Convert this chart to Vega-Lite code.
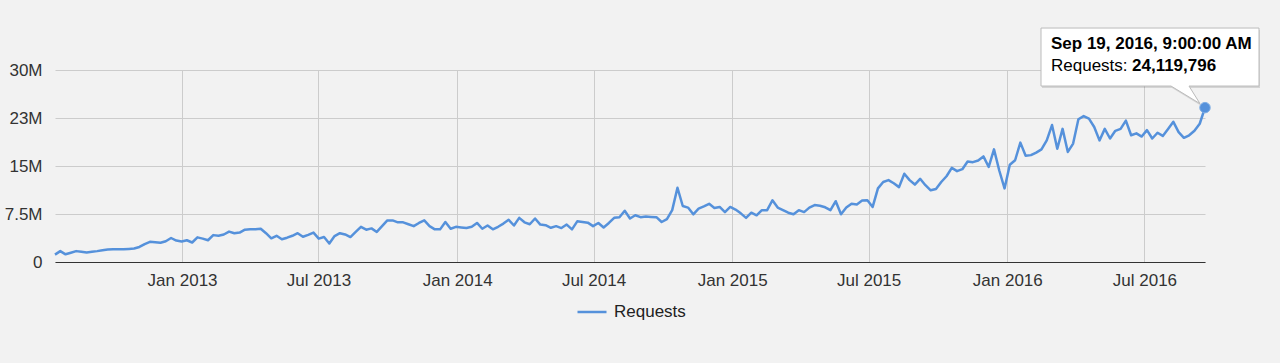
{
  "$schema": "https://vega.github.io/schema/vega-lite/v6.json",
  "width": 1150,
  "height": 192,
  "autosize": {"type": "none"},
  "padding": {"left": 55, "top": 70, "right": 75, "bottom": 101},
  "background": "#f2f2f2",
  "config": {"view": {"stroke": null}, "font": "Liberation Sans"},
  "data": {"values": [
    {"date":"2012-07-16T09:00:00","requests":1150000},
    {"date":"2012-07-23T09:00:00","requests":1700000},
    {"date":"2012-07-30T09:00:00","requests":1200000},
    {"date":"2012-08-06T09:00:00","requests":1450000},
    {"date":"2012-08-13T09:00:00","requests":1700000},
    {"date":"2012-08-20T09:00:00","requests":1600000},
    {"date":"2012-08-27T09:00:00","requests":1500000},
    {"date":"2012-09-03T09:00:00","requests":1600000},
    {"date":"2012-09-10T09:00:00","requests":1700000},
    {"date":"2012-09-17T09:00:00","requests":1850000},
    {"date":"2012-09-24T09:00:00","requests":1950000},
    {"date":"2012-10-01T09:00:00","requests":2000000},
    {"date":"2012-10-08T09:00:00","requests":2000000},
    {"date":"2012-10-15T09:00:00","requests":2000000},
    {"date":"2012-10-22T09:00:00","requests":2050000},
    {"date":"2012-10-29T09:00:00","requests":2100000},
    {"date":"2012-11-05T09:00:00","requests":2350000},
    {"date":"2012-11-12T09:00:00","requests":2800000},
    {"date":"2012-11-19T09:00:00","requests":3150000},
    {"date":"2012-11-26T09:00:00","requests":3100000},
    {"date":"2012-12-03T09:00:00","requests":3000000},
    {"date":"2012-12-10T09:00:00","requests":3250000},
    {"date":"2012-12-17T09:00:00","requests":3750000},
    {"date":"2012-12-24T09:00:00","requests":3350000},
    {"date":"2012-12-31T09:00:00","requests":3200000},
    {"date":"2013-01-07T09:00:00","requests":3400000},
    {"date":"2013-01-14T09:00:00","requests":3050000},
    {"date":"2013-01-21T09:00:00","requests":3850000},
    {"date":"2013-01-28T09:00:00","requests":3650000},
    {"date":"2013-02-04T09:00:00","requests":3400000},
    {"date":"2013-02-11T09:00:00","requests":4200000},
    {"date":"2013-02-18T09:00:00","requests":4100000},
    {"date":"2013-02-25T09:00:00","requests":4300000},
    {"date":"2013-03-04T09:00:00","requests":4750000},
    {"date":"2013-03-11T09:00:00","requests":4500000},
    {"date":"2013-03-18T09:00:00","requests":4600000},
    {"date":"2013-03-25T09:00:00","requests":5050000},
    {"date":"2013-04-01T09:00:00","requests":5100000},
    {"date":"2013-04-08T09:00:00","requests":5100000},
    {"date":"2013-04-15T09:00:00","requests":5200000},
    {"date":"2013-04-22T09:00:00","requests":4500000},
    {"date":"2013-04-29T09:00:00","requests":3700000},
    {"date":"2013-05-06T09:00:00","requests":4100000},
    {"date":"2013-05-13T09:00:00","requests":3550000},
    {"date":"2013-05-20T09:00:00","requests":3800000},
    {"date":"2013-05-27T09:00:00","requests":4100000},
    {"date":"2013-06-03T09:00:00","requests":4500000},
    {"date":"2013-06-10T09:00:00","requests":3950000},
    {"date":"2013-06-17T09:00:00","requests":4250000},
    {"date":"2013-06-24T09:00:00","requests":4600000},
    {"date":"2013-07-01T09:00:00","requests":3650000},
    {"date":"2013-07-08T09:00:00","requests":3900000},
    {"date":"2013-07-15T09:00:00","requests":2900000},
    {"date":"2013-07-22T09:00:00","requests":4050000},
    {"date":"2013-07-29T09:00:00","requests":4500000},
    {"date":"2013-08-05T09:00:00","requests":4300000},
    {"date":"2013-08-12T09:00:00","requests":3900000},
    {"date":"2013-08-19T09:00:00","requests":4700000},
    {"date":"2013-08-26T09:00:00","requests":5500000},
    {"date":"2013-09-02T09:00:00","requests":5050000},
    {"date":"2013-09-09T09:00:00","requests":5250000},
    {"date":"2013-09-16T09:00:00","requests":4700000},
    {"date":"2013-09-23T09:00:00","requests":5600000},
    {"date":"2013-09-30T09:00:00","requests":6500000},
    {"date":"2013-10-07T09:00:00","requests":6500000},
    {"date":"2013-10-14T09:00:00","requests":6200000},
    {"date":"2013-10-21T09:00:00","requests":6200000},
    {"date":"2013-10-28T09:00:00","requests":5900000},
    {"date":"2013-11-04T09:00:00","requests":5600000},
    {"date":"2013-11-11T09:00:00","requests":6100000},
    {"date":"2013-11-18T09:00:00","requests":6500000},
    {"date":"2013-11-25T09:00:00","requests":5600000},
    {"date":"2013-12-02T09:00:00","requests":5100000},
    {"date":"2013-12-09T09:00:00","requests":5100000},
    {"date":"2013-12-16T09:00:00","requests":6250000},
    {"date":"2013-12-23T09:00:00","requests":5200000},
    {"date":"2013-12-30T09:00:00","requests":5500000},
    {"date":"2014-01-06T09:00:00","requests":5400000},
    {"date":"2014-01-13T09:00:00","requests":5300000},
    {"date":"2014-01-20T09:00:00","requests":5500000},
    {"date":"2014-01-27T09:00:00","requests":6100000},
    {"date":"2014-02-03T09:00:00","requests":5200000},
    {"date":"2014-02-10T09:00:00","requests":5700000},
    {"date":"2014-02-17T09:00:00","requests":5100000},
    {"date":"2014-02-24T09:00:00","requests":5500000},
    {"date":"2014-03-03T09:00:00","requests":6000000},
    {"date":"2014-03-10T09:00:00","requests":6600000},
    {"date":"2014-03-17T09:00:00","requests":5700000},
    {"date":"2014-03-24T09:00:00","requests":6900000},
    {"date":"2014-03-31T09:00:00","requests":6200000},
    {"date":"2014-04-07T09:00:00","requests":5900000},
    {"date":"2014-04-14T09:00:00","requests":6800000},
    {"date":"2014-04-21T09:00:00","requests":5850000},
    {"date":"2014-04-28T09:00:00","requests":5750000},
    {"date":"2014-05-05T09:00:00","requests":5350000},
    {"date":"2014-05-12T09:00:00","requests":5600000},
    {"date":"2014-05-19T09:00:00","requests":5300000},
    {"date":"2014-05-26T09:00:00","requests":5850000},
    {"date":"2014-06-02T09:00:00","requests":5100000},
    {"date":"2014-06-09T09:00:00","requests":6350000},
    {"date":"2014-06-16T09:00:00","requests":6250000},
    {"date":"2014-06-23T09:00:00","requests":6150000},
    {"date":"2014-06-30T09:00:00","requests":5600000},
    {"date":"2014-07-07T09:00:00","requests":6100000},
    {"date":"2014-07-14T09:00:00","requests":5400000},
    {"date":"2014-07-21T09:00:00","requests":6100000},
    {"date":"2014-07-28T09:00:00","requests":6900000},
    {"date":"2014-08-04T09:00:00","requests":7000000},
    {"date":"2014-08-11T09:00:00","requests":8000000},
    {"date":"2014-08-18T09:00:00","requests":6800000},
    {"date":"2014-08-25T09:00:00","requests":7300000},
    {"date":"2014-09-01T09:00:00","requests":7000000},
    {"date":"2014-09-08T09:00:00","requests":7100000},
    {"date":"2014-09-15T09:00:00","requests":7050000},
    {"date":"2014-09-22T09:00:00","requests":7000000},
    {"date":"2014-09-29T09:00:00","requests":6250000},
    {"date":"2014-10-06T09:00:00","requests":6700000},
    {"date":"2014-10-13T09:00:00","requests":8100000},
    {"date":"2014-10-20T09:00:00","requests":11600000},
    {"date":"2014-10-27T09:00:00","requests":8750000},
    {"date":"2014-11-03T09:00:00","requests":8500000},
    {"date":"2014-11-10T09:00:00","requests":7450000},
    {"date":"2014-11-17T09:00:00","requests":8350000},
    {"date":"2014-11-24T09:00:00","requests":8700000},
    {"date":"2014-12-01T09:00:00","requests":9100000},
    {"date":"2014-12-08T09:00:00","requests":8450000},
    {"date":"2014-12-15T09:00:00","requests":8600000},
    {"date":"2014-12-22T09:00:00","requests":7800000},
    {"date":"2014-12-29T09:00:00","requests":8600000},
    {"date":"2015-01-05T09:00:00","requests":8200000},
    {"date":"2015-01-12T09:00:00","requests":7600000},
    {"date":"2015-01-19T09:00:00","requests":6900000},
    {"date":"2015-01-26T09:00:00","requests":7700000},
    {"date":"2015-02-02T09:00:00","requests":7300000},
    {"date":"2015-02-09T09:00:00","requests":8100000},
    {"date":"2015-02-16T09:00:00","requests":8100000},
    {"date":"2015-02-23T09:00:00","requests":9650000},
    {"date":"2015-03-02T09:00:00","requests":8500000},
    {"date":"2015-03-09T09:00:00","requests":8100000},
    {"date":"2015-03-16T09:00:00","requests":7700000},
    {"date":"2015-03-23T09:00:00","requests":7450000},
    {"date":"2015-03-30T09:00:00","requests":8100000},
    {"date":"2015-04-06T09:00:00","requests":7800000},
    {"date":"2015-04-13T09:00:00","requests":8500000},
    {"date":"2015-04-20T09:00:00","requests":8900000},
    {"date":"2015-04-27T09:00:00","requests":8800000},
    {"date":"2015-05-04T09:00:00","requests":8550000},
    {"date":"2015-05-11T09:00:00","requests":8100000},
    {"date":"2015-05-18T09:00:00","requests":9500000},
    {"date":"2015-05-25T09:00:00","requests":7450000},
    {"date":"2015-06-01T09:00:00","requests":8500000},
    {"date":"2015-06-08T09:00:00","requests":9100000},
    {"date":"2015-06-15T09:00:00","requests":9000000},
    {"date":"2015-06-22T09:00:00","requests":9600000},
    {"date":"2015-06-29T09:00:00","requests":9650000},
    {"date":"2015-07-06T09:00:00","requests":8600000},
    {"date":"2015-07-13T09:00:00","requests":11500000},
    {"date":"2015-07-20T09:00:00","requests":12500000},
    {"date":"2015-07-27T09:00:00","requests":12800000},
    {"date":"2015-08-03T09:00:00","requests":12300000},
    {"date":"2015-08-10T09:00:00","requests":11700000},
    {"date":"2015-08-17T09:00:00","requests":13800000},
    {"date":"2015-08-24T09:00:00","requests":12800000},
    {"date":"2015-08-31T09:00:00","requests":12100000},
    {"date":"2015-09-07T09:00:00","requests":13000000},
    {"date":"2015-09-14T09:00:00","requests":12000000},
    {"date":"2015-09-21T09:00:00","requests":11200000},
    {"date":"2015-09-28T09:00:00","requests":11400000},
    {"date":"2015-10-05T09:00:00","requests":12500000},
    {"date":"2015-10-12T09:00:00","requests":13400000},
    {"date":"2015-10-19T09:00:00","requests":14700000},
    {"date":"2015-10-26T09:00:00","requests":14200000},
    {"date":"2015-11-02T09:00:00","requests":14500000},
    {"date":"2015-11-09T09:00:00","requests":15700000},
    {"date":"2015-11-16T09:00:00","requests":15600000},
    {"date":"2015-11-23T09:00:00","requests":15850000},
    {"date":"2015-11-30T09:00:00","requests":16500000},
    {"date":"2015-12-07T09:00:00","requests":14850000},
    {"date":"2015-12-14T09:00:00","requests":17600000},
    {"date":"2015-12-21T09:00:00","requests":14300000},
    {"date":"2015-12-28T09:00:00","requests":11500000},
    {"date":"2016-01-04T09:00:00","requests":15200000},
    {"date":"2016-01-11T09:00:00","requests":15900000},
    {"date":"2016-01-18T09:00:00","requests":18650000},
    {"date":"2016-01-25T09:00:00","requests":16600000},
    {"date":"2016-02-01T09:00:00","requests":16700000},
    {"date":"2016-02-08T09:00:00","requests":17100000},
    {"date":"2016-02-15T09:00:00","requests":17600000},
    {"date":"2016-02-22T09:00:00","requests":19000000},
    {"date":"2016-02-29T09:00:00","requests":21400000},
    {"date":"2016-03-07T09:00:00","requests":17700000},
    {"date":"2016-03-14T09:00:00","requests":20800000},
    {"date":"2016-03-21T09:00:00","requests":17200000},
    {"date":"2016-03-28T09:00:00","requests":18500000},
    {"date":"2016-04-04T09:00:00","requests":22300000},
    {"date":"2016-04-11T09:00:00","requests":22800000},
    {"date":"2016-04-18T09:00:00","requests":22400000},
    {"date":"2016-04-25T09:00:00","requests":21100000},
    {"date":"2016-05-02T09:00:00","requests":19000000},
    {"date":"2016-05-09T09:00:00","requests":20800000},
    {"date":"2016-05-16T09:00:00","requests":19300000},
    {"date":"2016-05-23T09:00:00","requests":20500000},
    {"date":"2016-05-30T09:00:00","requests":20800000},
    {"date":"2016-06-06T09:00:00","requests":22100000},
    {"date":"2016-06-13T09:00:00","requests":19800000},
    {"date":"2016-06-20T09:00:00","requests":20100000},
    {"date":"2016-06-27T09:00:00","requests":19600000},
    {"date":"2016-07-04T09:00:00","requests":20600000},
    {"date":"2016-07-11T09:00:00","requests":19300000},
    {"date":"2016-07-18T09:00:00","requests":20200000},
    {"date":"2016-07-25T09:00:00","requests":19700000},
    {"date":"2016-08-01T09:00:00","requests":20800000},
    {"date":"2016-08-08T09:00:00","requests":21900000},
    {"date":"2016-08-15T09:00:00","requests":20300000},
    {"date":"2016-08-22T09:00:00","requests":19400000},
    {"date":"2016-08-29T09:00:00","requests":19800000},
    {"date":"2016-09-05T09:00:00","requests":20500000},
    {"date":"2016-09-12T09:00:00","requests":21600000},
    {"date":"2016-09-19T09:00:00","requests":24119796}
  ]},
  "encoding": {
    "x": {
      "field": "date", "type": "temporal",
      "scale": {"nice": false},
      "axis": {
        "title": null,
        "values": [
          {"year": 2013, "month": 1, "date": 1},
          {"year": 2013, "month": 7, "date": 1},
          {"year": 2014, "month": 1, "date": 1},
          {"year": 2014, "month": 7, "date": 1},
          {"year": 2015, "month": 1, "date": 1},
          {"year": 2015, "month": 7, "date": 1},
          {"year": 2016, "month": 1, "date": 1},
          {"year": 2016, "month": 7, "date": 1}
        ],
        "format": "%b %Y",
        "labelFont": "Liberation Sans",
        "labelFontSize": 17,
        "labelColor": "#333333",
        "labelPadding": 10,
        "labelFlush": false,
        "labelOverlap": false,
        "ticks": false,
        "domain": true,
        "domainColor": "#333333",
        "domainWidth": 1,
        "grid": true,
        "gridColor": "#cccccc",
        "gridWidth": 1
      }
    },
    "y": {
      "field": "requests", "type": "quantitative",
      "scale": {"domain": [0, 30000000], "nice": false},
      "axis": {
        "title": null,
        "values": [0, 7500000, 15000000, 22500000, 30000000],
        "labelExpr": "datum.value == 0 ? '0' : datum.value == 7500000 ? '7.5M' : datum.value == 15000000 ? '15M' : datum.value == 22500000 ? '23M' : '30M'",
        "labelFont": "Liberation Sans",
        "labelFontSize": 17,
        "labelColor": "#333333",
        "labelPadding": 13,
        "ticks": false,
        "domain": false,
        "grid": true,
        "gridColor": "#cccccc",
        "gridWidth": 1
      }
    }
  },
  "layer": [
    {
      "mark": {"type": "line", "strokeWidth": 2.5, "strokeJoin": "round"},
      "encoding": {
        "color": {
          "datum": "Requests",
          "scale": {"range": ["#5591db"]},
          "legend": {
            "title": null,
            "orient": "none",
            "legendX": 521,
            "legendY": 226,
            "padding": 0,
            "symbolType": "stroke",
            "symbolSize": 841,
            "symbolStrokeWidth": 2.5,
            "labelFont": "Liberation Sans",
            "labelFontSize": 17,
            "labelColor": "#222222",
            "labelOffset": 6
          }
        }
      }
    },
    {
      "transform": [{"filter": "datum.requests == 24119796"}],
      "layer": [
        {
          "mark": {"type": "point", "shape": "M-1.64,-0.796H0.54V-0.216H-0.16L-0.05,-0.04L-0.34,-0.216H-1.64Z", "size": 40000, "filled": true, "fill": "#000000", "opacity": 0.12, "strokeWidth": 0, "xOffset": 1, "yOffset": 2}
        },
        {
          "mark": {"type": "point", "shape": "M-1.64,-0.796H0.54V-0.216H-0.16L-0.05,-0.04L-0.34,-0.216H-1.64Z", "size": 40000, "filled": true, "fill": "#ffffff", "stroke": "#bbbbbb", "strokeWidth": 1, "opacity": 1}
        },
        {
          "mark": {"type": "point", "shape": "circle", "size": 110, "filled": true, "fill": "#5591db", "stroke": "#7eaee6", "strokeWidth": 1, "opacity": 1}
        },
        {
          "mark": {"type": "text", "align": "left", "baseline": "alphabetic", "dx": -154, "dy": -58.3, "font": "Liberation Sans", "fontSize": 17, "fontWeight": "bold", "fill": "#000000"},
          "encoding": {"text": {"field": "date", "type": "temporal", "format": "%b %-d, %Y, %-I:%M:%S %p"}}
        },
        {
          "mark": {"type": "text", "align": "left", "baseline": "alphabetic", "dx": -154, "dy": -36.6, "font": "Liberation Sans", "fontSize": 17, "fill": "#000000"},
          "encoding": {"text": {"value": "Requests:"}}
        },
        {
          "mark": {"type": "text", "align": "left", "baseline": "alphabetic", "dx": -73, "dy": -36.6, "font": "Liberation Sans", "fontSize": 17, "fontWeight": "bold", "fill": "#000000"},
          "encoding": {"text": {"field": "requests", "type": "quantitative", "format": ",d"}}
        }
      ]
    }
  ]
}
